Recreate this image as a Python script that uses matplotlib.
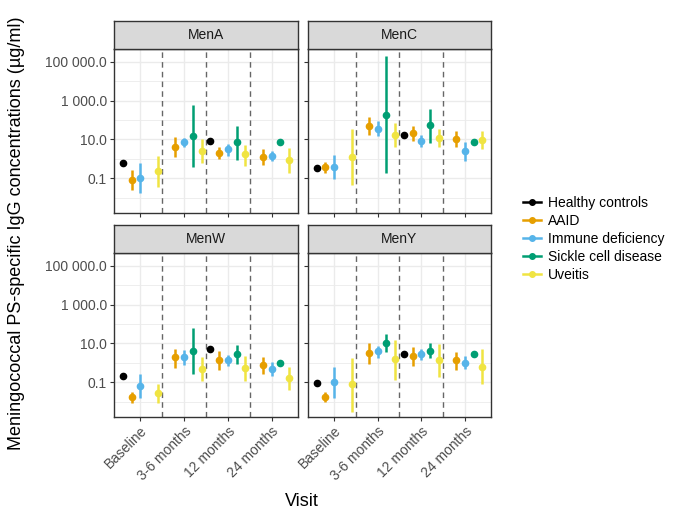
import numpy as np
import matplotlib
matplotlib.use('Agg')
import matplotlib.pyplot as plt
from matplotlib.lines import Line2D

plt.rcParams['font.family'] = ['Liberation Sans', 'DejaVu Sans']

visits = ['Baseline', '3-6 months', '12 months', '24 months']
groups = ['Healthy controls', 'AAID', 'Immune deficiency', 'Sickle cell disease', 'Uveitis']
colours = ['#000000', '#E69F00', '#56B4E9', '#009E73', '#F0E442']
panels = ['MenA', 'MenC', 'MenW', 'MenY']
nan = np.nan

# geometric means with lower / upper limits (ug/ml), one row per group, one column per visit
menA_mid = [[0.63, nan, 8.5, nan],
            [0.081, 4.2, 2.0, 1.3],
            [0.107, 7.6, 3.1, 1.4],
            [nan, 15, 7.1, 7.1],
            [0.23, 2.6, 1.7, 0.87]]
menA_lo = [[0.55, nan, 7.6, nan],
           [0.025, 1.2, 0.98, 0.48],
           [0.018, 3.9, 1.4, 0.78],
           [nan, 0.39, 0.93, 7.1],
           [0.037, 0.63, 0.43, 0.19]]
menA_hi = [[0.72, nan, 9.5, nan],
           [0.27, 13.5, 4.2, 3.3],
           [0.59, 12.6, 6.2, 2.6],
           [nan, 617, 48, 7.1],
           [1.4, 10, 5.5, 3.5]]

menC_mid = [[0.35, nan, 16.6, nan],
            [0.39, 48, 22, 10.5],
            [0.39, 36, 8.5, 2.5],
            [nan, 190, 54, 7.6],
            [1.3, 16.6, 12.6, 9.1]]
menC_lo = [[0.3, nan, 14.5, nan],
           [0.2, 17.4, 8.5, 3.9],
           [0.089, 14.8, 3.9, 0.78],
           [nan, 0.2, 6.8, 7.6],
           [0.046, 3.9, 3.9, 3.1]]
menC_hi = [[0.41, nan, 19, nan],
           [0.71, 135, 50, 27],
           [1.55, 87, 16.6, 7.6],
           [nan, 186000, 389, 7.6],
           [34, 71, 34, 27]]

menW_mid = [[0.22, nan, 4.9, nan],
            [0.017, 1.9, 1.4, 0.78],
            [0.065, 2.0, 1.4, 0.48],
            [nan, 4.2, 2.75, 1.0],
            [0.028, 0.48, 0.56, 0.16]]
menW_lo = [[0.17, nan, 3.9, nan],
           [0.0089, 0.52, 0.43, 0.26],
           [0.015, 0.78, 0.71, 0.21],
           [nan, 0.27, 0.83, 1.0],
           [0.0083, 0.12, 0.12, 0.041]]
menW_hi = [[0.28, nan, 6.2, nan],
           [0.033, 5.2, 4.0, 2.0],
           [0.27, 4.6, 2.5, 1.07],
           [nan, 63, 8.1, 1.0],
           [0.079, 2.0, 2.2, 0.59]]

menY_mid = [[0.089, nan, 2.75, nan],
            [0.018, 3.1, 2.2, 1.4],
            [0.1, 4.1, 2.75, 1.0],
            [nan, 11.2, 4.2, 2.75],
            [0.079, 1.5, 1.4, 0.63]]
menY_lo = [[0.071, nan, 2.2, nan],
           [0.0093, 0.83, 0.69, 0.43],
           [0.015, 1.8, 1.4, 0.47],
           [nan, 3.7, 1.7, 2.75],
           [0.0031, 0.14, 0.19, 0.079]]
menY_hi = [[0.11, nan, 3.5, nan],
           [0.033, 10.7, 6.8, 3.5],
           [0.63, 7.6, 5.1, 2.2],
           [nan, 32, 10, 2.75],
           [1.8, 15.8, 9.1, 4.9]]

data = {'MenA': (menA_mid, menA_lo, menA_hi),
        'MenC': (menC_mid, menC_lo, menC_hi),
        'MenW': (menW_mid, menW_lo, menW_hi),
        'MenY': (menY_mid, menY_lo, menY_hi)}

W, H = 685, 522
fig = plt.figure(figsize=(W / 100, H / 100), dpi=100)

lefts = [114, 308]
rights = [298, 491]
tops = [49, 253]
bottoms = [213, 417]
strip_h = 28

yticks = [0.1, 10, 1000, 100000]
yticklabels = ['0.1', '10.0', '1 000.0', '100 000.0']
offsets = np.array([-0.4, -0.2, 0, 0.2, 0.4])
x = np.arange(1, 5)

for k, name in enumerate(panels):
    r, c = divmod(k, 2)
    l, rt, t, b = lefts[c], rights[c], tops[r], bottoms[r]
    ax = fig.add_axes([l / W, 1 - b / H, (rt - l) / W, (b - t) / H])
    ax.set_yscale('log')
    ax.set_ylim(10 ** -2.78, 10 ** 5.65)
    ax.set_xlim(0.4, 4.6)
    ax.set_axisbelow(True)
    ax.set_yticks([0.01, 1, 100, 10000], minor=True)
    ax.set_yticks(yticks)
    ax.grid(True, which='major', color='#EBEBEB', lw=1.0)
    ax.grid(True, which='minor', color='#EBEBEB', lw=0.6)
    ax.tick_params(which='minor', length=0, labelleft=False)
    ax.tick_params(which='major', length=3, width=0.8, color='#333333',
                   labelcolor='#4D4D4D', labelsize=10, pad=2)
    ax.set_xticks(x)
    if r == 1:
        ax.set_xticklabels(visits, rotation=45, ha='right', va='top',
                           rotation_mode='anchor')
    else:
        ax.set_xticklabels([])
    if c == 0:
        ax.set_yticklabels(yticklabels)
    else:
        ax.set_yticklabels([])
    for s in ax.spines.values():
        s.set_color('#333333')
        s.set_linewidth(1.0)
    for xv in [1.5, 2.5, 3.5]:
        ax.axvline(xv, color='#666666', lw=1.0, ls=(0, (4, 3)), zorder=1)

    mid, lo, hi = [np.array(a, dtype=float) for a in data[name]]
    for g in range(len(groups)):
        xs = x + offsets[g]
        ok = ~np.isnan(mid[g])
        ax.vlines(xs[ok], lo[g][ok], hi[g][ok], color=colours[g], lw=1.8, zorder=3)
        ax.plot(xs[ok], mid[g][ok], 'o', color=colours[g], ms=4.5, zorder=4)

    # strip
    sax = fig.add_axes([l / W, 1 - t / H, (rt - l) / W, strip_h / H])
    sax.set_facecolor('#D9D9D9')
    sax.set_xticks([])
    sax.set_yticks([])
    for s in sax.spines.values():
        s.set_color('#333333')
        s.set_linewidth(1.0)
    sax.text(0.5, 0.5, name, ha='center', va='center', fontsize=10,
             color='#1A1A1A', transform=sax.transAxes)

fig.text(17 / W, 1 - 233 / H, 'Meningococcal PS-specific IgG concentrations (µg/ml)',
         rotation=90, ha='center', va='center', fontsize=13)
fig.text(302 / W, 1 - 502 / H, 'Visit', ha='center', va='center', fontsize=13)

handles = [Line2D([], [], color=cl, marker='o', ms=4, lw=1.8) for cl in colours]
fig.legend(handles, groups, loc='center left', bbox_to_anchor=(516 / W, 1 - 239 / H),
           frameon=False, fontsize=10, handlelength=1.3, handletextpad=0.5,
           labelspacing=0.3, borderpad=0)

fig.savefig('out.png', dpi=100)
